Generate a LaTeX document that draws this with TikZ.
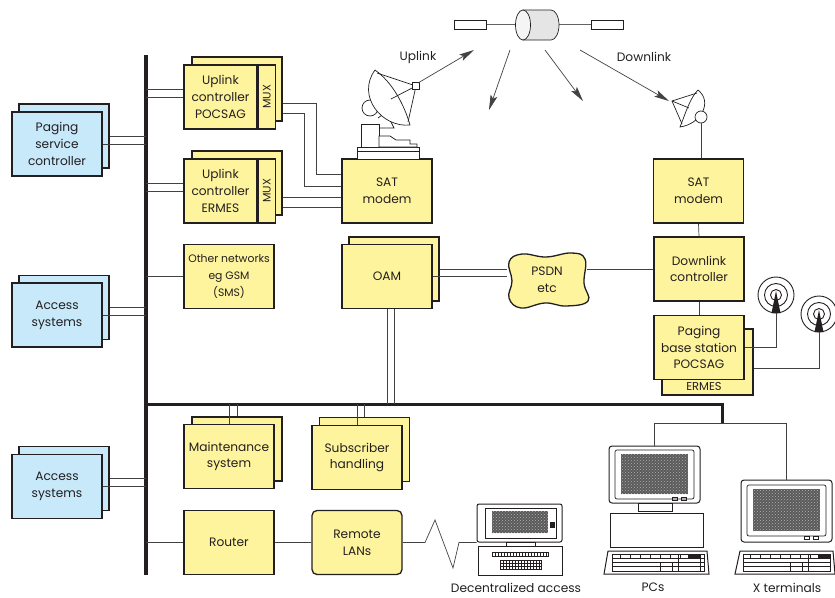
\documentclass[tikz,border=0pt]{standalone}
\usepackage{fontspec}
\usepackage{graphicx}
\setmainfont{Poppins}
\usetikzlibrary{arrows.meta,patterns}
\definecolor{boxyellow}{RGB}{255,244,158}
\definecolor{boxblue}{RGB}{199,233,250}
\definecolor{ink}{RGB}{35,31,32}
\definecolor{scr}{RGB}{90,90,90}
\begin{document}
\begin{tikzpicture}[x=1pt,y=-1pt,
    yel/.style={draw=ink,fill=boxyellow,line width=1.3pt,minimum width=90pt,minimum height=64pt,
      inner sep=1pt,align=center,text=ink,font=\fontsize{12.2}{16.7}\selectfont},
    blu/.style={yel,fill=boxblue},
    ln/.style={draw=ink!85,line width=0.7pt},
    arr/.style={ln,-{Stealth[length=15pt,width=7pt,inset=3pt]}},
    lbl/.style={text=ink,align=center,font=\fontsize{12.2}{16.7}\selectfont},
    screen/.style={fill=scr,postaction={pattern=crosshatch dots,pattern color=gray!60}}]
  \useasboundingbox (0,0) rectangle (835,597);

  % bus lines
  \coordinate (b1) at (146,55);
  \coordinate (b2) at (146,575);
  \coordinate (h1) at (146,404);
  \coordinate (h2) at (722,404);
  \coordinate (h3) at (722,423);
  \draw[ink,line width=4.5pt] (b1) -- (b2);
  \draw[ink,line width=3pt] (h1) -- (h2) -- (h3);

  % left side
  \node[blu] (pscB) at (64,136) {};
  \node[blu] (psc) at (57,144) {Paging\\service\\controller};
  \node[blu] (acc1B) at (64,307.5) {};
  \node[blu] (acc1) at (57,315) {Access\\systems};
  \node[blu] (acc2B) at (64,478.5) {};
  \node[blu] (acc2) at (57,486.5) {Access\\systems};
  \begin{scope}[ln]
    \draw (pscB.east) -- (pscB.east -| b1);
    \draw (psc.east) -- (psc.east -| b1);
    \draw (acc1B.east) -- (acc1B.east -| b1);
    \draw (acc1.east) -- (acc1.east -| b1);
    \draw (acc2B.east) -- (acc2B.east -| b1);
    \draw (acc2.east) -- (acc2.east -| b1);
  \end{scope}

  % uplink controllers
  \node[yel] (upPB) at (237,89) {};
  \node[yel,minimum width=73pt] (upP) at (220.5,97) {Uplink\\controller\\POCSAG};
  \node[yel,minimum width=17pt,inner sep=0pt,anchor=west] (muxP) at (upP.east) {\rotatebox{90}{\fontsize{11}{11}\selectfont MUX}};
  \node[yel] (upEB) at (237,183) {};
  \node[yel,minimum width=73pt] (upE) at (220.5,191) {Uplink\\controller\\ERMES};
  \node[yel,minimum width=17pt,inner sep=0pt,anchor=west] (muxE) at (upE.east) {\rotatebox{90}{\fontsize{11}{11}\selectfont MUX}};
  \node[yel,font=\fontsize{10.8}{16.7}\selectfont] (oth) at (229,276.5) {Other networks\\eg GSM\\(SMS)};

  \node[yel] (satL) at (387,191) {SAT\\modem};
  \begin{scope}[ln]
    \draw (upPB -| b1) -- (upPB -| upP.west);
    \draw (upP.west -| b1) -- (upP.west);
    \draw (upEB -| b1) -- (upEB -| upE.west);
    \draw (upE.west -| b1) -- (upE.west);
    \draw (oth.west -| b1) -- (oth.west);
    \draw (upPB.east |- 0,103) -- (316,103) -- (316,174) -- (satL.west |- 0,174);
    \draw (upPB.east |- 0,113) -- (304,113) -- (304,186) -- (satL.west |- 0,186);
    \draw (upEB.east |- 0,197) -- (satL.west |- 0,197);
    \draw (upEB.east |- 0,207) -- (satL.west |- 0,207);
  \end{scope}

  % uplink dish
  \begin{scope}[draw=ink,line width=0.7pt]
    \filldraw[fill=white] (357,147) rectangle (419,159);
    \draw (357,151) -- (419,151);
    \filldraw[fill=white] (361,124) rectangle (379,147);
    \filldraw[fill=white] (379,147) -- (379,136) -- (390,136) -- (396,140) -- (410,140) -- (410,144) -- (417,144) -- (417,147) -- cycle;
    \draw (378,118) -- (386,112) -- (394,128) -- (379,128);
    \filldraw[fill=white] (370,108) circle[radius=8];
    \filldraw[fill=white] (375,70) .. controls (356,96) and (382,128) .. (410,125) .. controls (404,104) and (392,82) .. (375,70);
    \draw (377,73) -- (416,86) -- (408,122);
    \draw (391,99) -- (416,86);
    \filldraw[fill=white] (412,82) rectangle (419,89);
  \end{scope}

  % satellite
  \begin{scope}[draw=ink,line width=0.7pt]
    \draw[ink!70] (486,24.5) -- (523,24.5);
    \draw[ink!70] (552,24.5) -- (591,24.5);
    \filldraw[fill=white] (454,20) rectangle (486,29);
    \filldraw[fill=white] (591,20) rectangle (623,29);
    \filldraw[fill=gray!20] (523,10) -- (551,10) arc[start angle=-90,end angle=90,x radius=8,y radius=15] -- (523,40) -- cycle;
    \filldraw[fill=gray!8] (523,25) ellipse[x radius=7.5,y radius=15];
  \end{scope}
  \coordinate (feedL) at (418,83);
  \coordinate (upT) at (474,50);
  \coordinate (s1) at (510,50);
  \coordinate (s1T) at (489,110);
  \coordinate (s2) at (545,50);
  \coordinate (s2T) at (583,101);
  \coordinate (s3) at (580,50);
  \coordinate (s3T) at (669,101);
  \draw[arr] (feedL) -- (upT);
  \draw[arr] (s1) -- (s1T);
  \draw[arr] (s2) -- (s2T);
  \draw[arr] (s3) -- (s3T);
  \node[lbl] (upl) at (418,57) {Uplink};
  \node[lbl] (dnl) at (644,57) {Downlink};

  % downlink dish
  \begin{scope}[draw=ink,line width=0.7pt]
    \filldraw[fill=white] (698,90) .. controls (713,102) and (701,124) .. (680,127) .. controls (686,112) and (690,98) .. (698,90);
    \draw (697,93) -- (672,101) -- (682,124);
    \draw (689,108) -- (672,101);
    \filldraw[fill=white] (701,117) circle[radius=6];
  \end{scope}
  \coordinate (dishR) at (701,123);

  % downlink side
  \node[yel] (satR) at (698.5,191) {SAT\\modem};
  \node[yel] (dlc) at (699,269) {Downlink\\controller};
  \node[yel,minimum width=91pt,minimum height=66pt] (pbsB) at (707.5,362) {};
  \node[lbl,font=\fontsize{11.5}{12}\selectfont] (erm) at (704,386) {ERMES};
  \node[yel] (pbs) at (699,347.5) {Paging\\base station\\POCSAG};
  \draw[ln] (dishR) -- (dishR |- satR.north);
  \draw[ln] (satR.south) -- (dlc.north);
  \draw[ln] (dlc.south) -- (pbs.north);

  % antennas
  \coordinate (ant1) at (776,295);
  \coordinate (ant2) at (819,314);
  \coordinate (m1) at (776,313);
  \coordinate (m2) at (819,332);
  \foreach \a in {ant1,ant2}{
    \foreach \r in {5.5,11.5,18}
      \draw[ink,line width=0.9pt] (\a) circle[radius=\r];
  }
  \fill[ink] (776,291) -- (780.5,313) -- (771.5,313) -- cycle;
  \fill[ink] (819,310) -- (823.5,332) -- (814.5,332) -- cycle;
  \draw[ln] (pbs.east) -- (pbs.east -| m1) -- (m1);
  \draw[ln] (pbsB.east |- 0,368) -- (m2 |- 0,368) -- (m2);

  % OAM and PSDN
  \node[yel] (oamB) at (394,269) {};
  \node[yel] (oam) at (387,276.5) {OAM};
  \draw[draw=ink,fill=boxyellow,line width=1.3pt] plot[smooth cycle,tension=0.7] coordinates
    {(509,262) (522,254) (546,257) (571,253) (585,259) (584,283) (588,301) (566,306) (545,303) (521,308) (509,298) (512,281)};
  \node[lbl,minimum width=80pt,minimum height=54pt,inner sep=0pt] (psdn) at (547,280) {PSDN\\etc};
  \begin{scope}[ln]
    \draw (oamB.east) -- (oamB.east -| psdn.west);
    \draw (oam.east) -- (oam.east -| psdn.west);
    \draw (psdn.east |- dlc) -- (dlc.west);
    \draw (oam.south) -- (oam.south |- h1);
    \draw (oamB |- oam.south) -- (oamB |- h1);
  \end{scope}

  % lower boxes
  \node[yel] (mntB) at (237,449) {};
  \node[yel] (mnt) at (229,456.5) {Maintenance\\system};
  \node[yel] (subB) at (364.5,449.5) {};
  \node[yel] (sub) at (357,457.5) {Subscriber\\handling};
  \node[yel] (rtr) at (229,542.5) {Router};
  \node[yel,rounded corners=5pt] (rlan) at (357,542.5) {Remote\\LANs};
  \begin{scope}[ln]
    \draw (mnt.north) -- (mnt.north |- h1);
    \draw (mntB.north) -- (mntB.north |- h1);
    \draw (sub.north) -- (sub.north |- h1);
    \draw (subB.north) -- (subB.north |- h1);
    \draw (rtr.west -| b1) -- (rtr.west);
    \draw (rtr.east) -- (rlan.west);
  \end{scope}

  % decentralized access
  \node[draw=ink,line width=1pt,rounded corners=2pt,minimum width=85pt,minimum height=38pt,inner sep=0pt] (decmon) at (519.5,523) {};
  \begin{scope}[draw=ink,line width=0.7pt]
    \draw (485,508) rectangle (556,538);
    \fill[screen] (492,511) rectangle (548,533);
    \fill[ink] (550,522) rectangle (555,528);
    \draw (506,542) rectangle (535,546);
    \draw[line width=1pt] (478,546) rectangle (562,575);
    \draw (492,552) rectangle (548,556);
    \foreach \x in {495,498,...,546} \draw[line width=0.4pt] (\x,552) -- (\x,556);
    \draw (500,560) rectangle (541,569);
    \foreach \x in {503,506,...,539} \draw[line width=0.4pt] (\x,560) -- (\x,569);
    \draw[line width=0.4pt] (500,563) -- (541,563) (500,566) -- (541,566);
  \end{scope}
  \draw[ln] (rlan.east) -- (425,542.5) -- (435,520) -- (453,568) -- (459,542.5) -- (decmon.south west);

  % PC
  \node[draw=ink,line width=1pt,rounded corners=3pt,minimum width=91pt,minimum height=57pt,inner sep=0pt] (pcmon) at (654.5,474.5) {};
  \begin{scope}[draw=ink,line width=0.7pt]
    \draw[rounded corners=2pt] (615,450) rectangle (694,499);
    \fill[screen] (621,454) rectangle (688,494);
    \draw (672,497) rectangle (677,500) (681,497) rectangle (686,500);
    \draw (638,503) rectangle (672,511);
    \draw[line width=1pt] (610,513) rectangle (703,547);
    \draw[line width=1pt] (608,551) -- (707,551) -- (709,574) -- (604,574) -- cycle;
    \draw (612,554) rectangle (704,571);
    \draw[line width=0.4pt] (612,558) -- (704,558) (612,562) -- (704,562) (612,566) -- (704,566);
    \foreach \x in {620,630,...,700} \draw[line width=0.4pt] (\x,554) -- (\x,558);
    \draw (660,562) rectangle (672,571) (678,554) rectangle (700,571);
    \fill[ink] (688,554) rectangle (700,558);
  \end{scope}

  % X terminal
  \node[draw=ink,line width=1pt,rounded corners=3pt,minimum width=91pt,minimum height=62pt,inner sep=0pt] (xmon) at (786.5,511) {};
  \begin{scope}[draw=ink,line width=0.7pt]
    \draw[rounded corners=2pt] (747,485) rectangle (826,536);
    \fill[screen] (753,489) rectangle (820,531);
    \draw (804,536) rectangle (809,539) (813,536) rectangle (818,539);
    \draw[line width=1pt] (740,551) -- (833,551) -- (835,574) -- (735,574) -- cycle;
    \draw (743,554) rectangle (830,571);
    \draw[line width=0.4pt] (743,558) -- (830,558) (743,562) -- (830,562) (743,566) -- (830,566);
    \foreach \x in {750,760,...,820} \draw[line width=0.4pt] (\x,554) -- (\x,558);
    \draw (790,562) rectangle (802,571) (808,554) rectangle (830,571);
    \fill[ink] (818,554) rectangle (830,558);
  \end{scope}
  \draw[ln] (pcmon.north) -- (pcmon.north |- h3) -- (xmon.north |- h3) -- (xmon.north);

  \node[lbl,inner sep=1pt] (declbl) at (516,587.5) {Decentralized access};
  \node[lbl,inner sep=1pt] (pclbl) at (653,587.5) {PCs};
  \node[lbl,inner sep=1pt] (xlbl) at (787,587.5) {X terminals};
\end{tikzpicture}
\end{document}
